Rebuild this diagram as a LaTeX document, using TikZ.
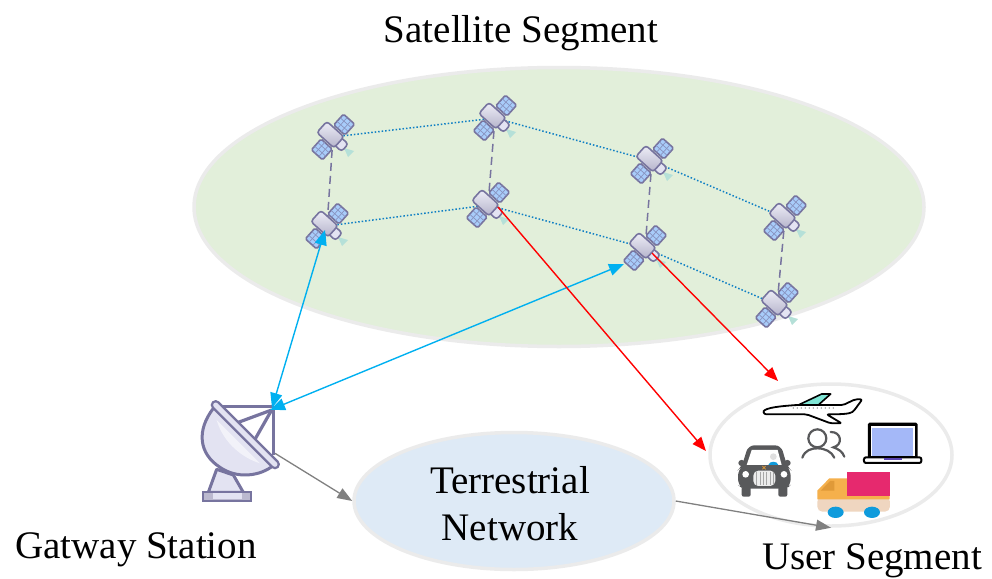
\documentclass[tikz,border=0pt]{standalone}
\usepackage{fontspec}
\setmainfont{Liberation Serif}
\usetikzlibrary{arrows.meta,shapes.geometric}
\definecolor{satfill}{HTML}{E2EFDA}
\definecolor{ringc}{HTML}{EBEBEB}
\definecolor{terrfill}{HTML}{DEEAF6}
\definecolor{purp}{HTML}{77749F}
\definecolor{pale}{HTML}{E3E3F2}
\definecolor{panelc}{HTML}{A8CCFA}
\definecolor{cable}{HTML}{00B0F0}
\definecolor{linkc}{HTML}{0F7FC4}
\definecolor{darkc}{HTML}{58595B}
\definecolor{beamc}{HTML}{B5E0D8}
\definecolor{wingc}{HTML}{7FE5D5}
\definecolor{screenc}{HTML}{A4B8F8}
\definecolor{notchc}{HTML}{5B45B0}
\definecolor{truckb}{HTML}{EFD6C0}
\definecolor{trucko}{HTML}{F5B04C}
\definecolor{trucka}{HTML}{E09A38}
\definecolor{truckp}{HTML}{E6296E}
\definecolor{wheelc}{HTML}{0F9BDC}
\tikzset{
  seg/.style={draw=ringc,line width=3.5pt,ellipse},
  lbl/.style={font=\fontsize{39}{46}\selectfont,inner sep=0pt,align=center},
  isl/.style={linkc,line width=1.5pt,dotted},
  vert/.style={purp,line width=1.5pt,dash pattern=on 8pt off 5pt},
  blueway/.style={cable,line width=1.4pt,{Triangle[length=15pt,width=12pt]}-{Triangle[length=15pt,width=12pt]}},
  redway/.style={red,line width=1.4pt,-{Triangle[length=14pt,width=11pt]}},
  grayway/.style={gray,line width=1.3pt,-{Triangle[length=15pt,width=11pt]}},
  ln/.style={purp,line width=1.6pt},
  pics/sat/.style={code={
    \fill[beamc] (11,11)--(21,14)--(15,20)--cycle;
    \begin{scope}[rotate=-42]
      \foreach \s in {-1,1}{
        \draw[ln,fill=panelc,rounded corners=1.5pt] (-7.5,\s*9.5) rectangle (7.5,\s*24);
        \foreach \t in {-2.5,2.5}{
          \draw[purp!65!panelc,line width=.7pt] (\t,\s*9.5)--(\t,\s*24);
        }
        \foreach \t in {14.3,19.1}{
          \draw[purp!65!panelc,line width=.7pt] (-7.5,\s*\t)--(7.5,\s*\t);
        }
      }
      \draw[ln,fill=pale,rounded corners=3pt] (6,-5) rectangle (16,5);
      \draw[ln,top color=pale!60!white,bottom color=purp!55!white,rounded corners=3pt] (-15,-7.5) rectangle (8,7.5);
    \end{scope}
  }}
}
\begin{document}
\begin{tikzpicture}[x=1pt,y=-1pt]
\useasboundingbox (0,0) rectangle (992,578);
% segments
\node[seg,fill=satfill,minimum width=730pt,minimum height=279pt,inner sep=0pt] (satseg) at (559,207) {};
\node[seg,fill=terrfill,minimum width=320pt,minimum height=137pt,inner sep=0pt] (terr) at (514,501) {};
\node[seg,fill=white,minimum width=242pt,minimum height=142pt,inner sep=0pt] (user) at (831,455) {};
% satellite positions
\coordinate (s1) at (333,137);
\coordinate (s2) at (495,118);
\coordinate (s3) at (652,161);
\coordinate (s4) at (785,218);
\coordinate (s5) at (327,226);
\coordinate (s6) at (488,205);
\coordinate (s7) at (645,248);
\coordinate (s8) at (777,305);
% inter-satellite links
\draw[isl] (s1)--(s2);
\draw[isl] (s2)--(s3);
\draw[isl] (s3)--(s4);
\draw[isl] (s5)--(s6);
\draw[isl] (s6)--(s7);
\draw[isl] (s7)--(s8);
\draw[vert] (s1)--(s5);
\draw[vert] (s2)--(s6);
\draw[vert] (s3)--(s7);
\draw[vert] (s4)--(s8);
\foreach \n in {s1,s2,s3,s4,s5,s6,s7,s8}{
  \pic at (\n) {sat};
}
% dish
\begin{scope}[shift={(180,380)},x=.3333pt,y=-.3333pt]
  \draw[purp,line width=3pt,fill=pale,line join=round] (110,268)--(85,337)--(190,337)--(160,285)--cycle;
  \draw[purp,line width=3.2pt,line join=round] (108,80)--(280,80)--(280,225);
  \draw[purp,line width=3.2pt] (275,90)--(175,127);
  \draw[purp,line width=3.2pt] (275,90)--(225,178);
  \draw[purp,line width=3pt,fill=pale] (100,85) .. controls (50,150) and (55,220) .. (120,262) .. controls (170,297) and (240,290) .. (282,255);
  \fill[white,opacity=.55] (110,120) -- (240,250) .. controls (190,235) and (130,190) .. (110,120);
  \draw[purp,line width=10pt,line cap=round] (107,75)--(285,253);
  \draw[pale,line width=5pt,line cap=round] (107,75)--(285,253);
  \draw[purp,line width=2pt,fill=purp!50!white] (70,335) rectangle (213,362);
  \fill[pale] (100,340) rectangle (185,357);
  \coordinate (gwout) at (285,220);
\end{scope}
% user icons
\begin{scope}[shift={(700,370)},x=.3333pt,y=-.3333pt]
  % plane
  \draw[black,line width=1.6pt,fill=wingc,line join=round] (295,105)--(365,72)--(392,72)--(355,105)--cycle;
  \draw[black,line width=1.8pt,fill=white,line join=round,rounded corners=2pt] (190,125) .. controls (195,112) and (250,108) .. (290,105) -- (430,105) -- (465,88) -- (487,88) -- (462,122) .. controls (450,132) and (420,133) .. (380,133) -- (425,160) -- (392,160) -- (320,133) -- (205,133) .. controls (195,133) and (190,130) .. (190,125);
  \foreach \q in {280,292,...,400}{\fill[darkc] (\q,114) circle (1.8);}
  % people
  \draw[darkc,line width=2.2pt] (352,205) circle (27);
  \draw[darkc,line width=2.2pt,line cap=round] (307,263) .. controls (315,240) and (335,235) .. (352,235) .. controls (375,235) and (395,245) .. (403,263);
  \draw[darkc,line width=2.2pt,line cap=round] (392,186) .. controls (425,185) and (430,225) .. (400,232) .. controls (415,237) and (428,245) .. (433,260);
  % laptop
  \fill[black,rounded corners=1.5pt] (504,158) rectangle (653,265);
  \fill[white] (513,168) rectangle (644,259);
  \fill[screenc] (516,174) rectangle (638,259);
  \draw[black,line width=2pt,fill=white,rounded corners=2pt] (492,262) rectangle (664,279);
  \fill[notchc] (552,264) rectangle (606,271);
  % car
  \fill[darkc,rounded corners=2pt] (125,350) rectangle (152,380);
  \fill[darkc,rounded corners=2pt] (235,350) rectangle (262,380);
  \fill[darkc,rounded corners=3pt] (115,270) rectangle (135,288);
  \fill[darkc,rounded corners=3pt] (252,270) rectangle (272,288);
  \fill[darkc,rounded corners=6pt] (145,226) -- (243,226) -- (262,290) -- (272,300) -- (272,345) -- (260,356) -- (128,356) -- (114,345) -- (114,300) -- (125,290) -- cycle;
  \fill[white] (155,240) -- (233,240) -- (245,285) -- (140,285) -- cycle;
  \fill[gray!25] (220,260) circle (10);
  \fill[wheelc] (205,285) .. controls (208,272) and (232,272) .. (235,285) -- cycle;
  \fill[white] (137,313) circle (10);
  \fill[white] (252,313) circle (10);
  \fill[gray!15,rounded corners=5pt] (160,302) rectangle (226,348);
  \foreach \q in {170,180,...,220}{\draw[gray!70,line width=.7pt] (\q,306)--(\q,344);}
  \draw[trucka,line width=.6pt] (187,288)--(197,298) (197,288)--(187,298);
  % truck
  \fill[truckb,rounded corners=5pt] (352,380) rectangle (570,425);
  \fill[trucko] (352,388) -- (352,362) -- (388,325) -- (441,325) -- (441,378) -- (569,378) -- (569,388) -- cycle;
  \fill[trucka] (362,362) -- (390,333) -- (403,333) -- (403,362) -- cycle;
  \fill[truckp] (441,306) rectangle (569,378);
  \fill[wheelc] (407,427) ellipse (24 and 17);
  \fill[wheelc] (516,427) ellipse (24 and 17);
\end{scope}
% free ends of connectors
\coordinate (s5a) at (325,230);
\coordinate (gwa) at (272,408);
\coordinate (s7a) at (624,264);
\coordinate (gwb) at (270,410);
\coordinate (s6r) at (498,207);
\coordinate (ur1) at (706,451);
\coordinate (s7r) at (652,253);
\coordinate (ur2) at (778,381);
% connectors
\draw[blueway] (gwa)--(s5a);
\draw[blueway] (gwb)--(s7a);
\draw[redway] (s6r)--(ur1);
\draw[redway] (s7r)--(ur2);
\draw[grayway] (gwout)--(terr.west);
\draw[grayway] (terr.east)--(user.south);
% labels
\node[lbl] (t1) at (521,33) {Satellite Segment};
\node[lbl] (t2) at (510,504) {Terrestrial\\[1pt]Network};
\node[lbl] (t3) at (136,550) {Gatway Station};
\node[lbl] (t4) at (872,561) {User Segment};
\end{tikzpicture}
\end{document}
